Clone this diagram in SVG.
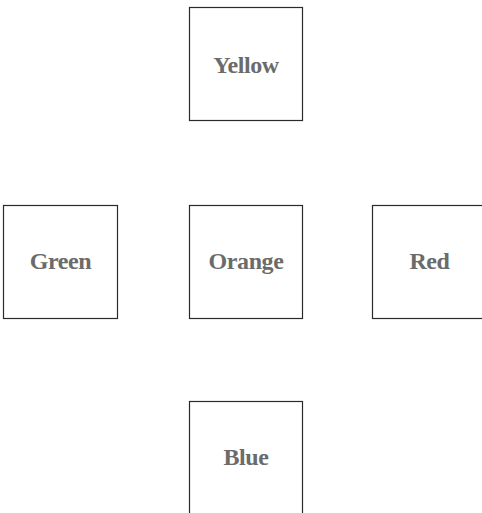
<svg xmlns="http://www.w3.org/2000/svg" width="482" height="513" viewBox="0 0 482 513">
<style>
.box{fill:#ffffff;stroke:#2a2a2a;stroke-width:1.2}
.lbl{font-family:"Liberation Serif","DejaVu Serif",serif;font-weight:bold;font-size:24px;letter-spacing:-0.4px;fill:#6b6b6b;text-anchor:middle}
</style>
<rect width="482" height="513" fill="#ffffff"/>
<g id="connectors"></g>
<g id="yellow"><rect class="box" x="189.5" y="7.5" width="113" height="113"/><text class="lbl" x="246" y="73">Yellow</text></g>
<g id="green"><rect class="box" x="3.5" y="205.5" width="114" height="113"/><text class="lbl" x="60.5" y="269">Green</text></g>
<g id="orange"><rect class="box" x="189.5" y="205.5" width="113" height="113"/><text class="lbl" x="246" y="269">Orange</text></g>
<g id="red"><rect class="box" x="372.5" y="205.5" width="114" height="113"/><text class="lbl" x="429.5" y="269">Red</text></g>
<g id="blue"><rect class="box" x="189.5" y="401.5" width="113" height="113"/><text class="lbl" x="246" y="465">Blue</text></g>
</svg>
